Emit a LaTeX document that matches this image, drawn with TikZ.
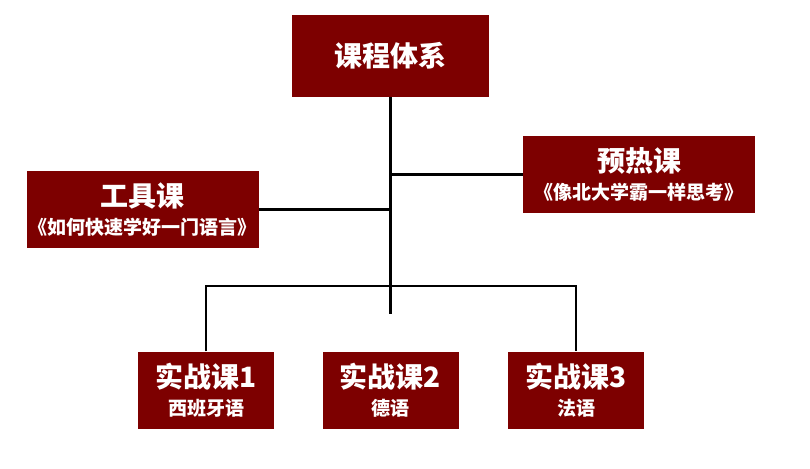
\documentclass[tikz,border=0pt]{standalone}
\usepackage{fontspec}
\usepackage{xcolor}
\usetikzlibrary{positioning}
\newfontfamily\cjk{Noto Sans CJK SC}
\definecolor{darkred}{RGB}{125,0,0}
\newcommand{\bigtxt}{\fontsize{28}{34}\selectfont}
\newcommand{\subtxt}{\fontsize{19}{24}\selectfont}

\begin{document}
\begin{tikzpicture}[x=1pt, y=-1pt,
        course/.style={fill=darkred, text=white, font=\cjk\bfseries, align=center, inner sep=0pt},
        widebox/.style={course, minimum width=232pt, minimum height=77pt},
        smallbox/.style={course, minimum width=136pt, minimum height=77pt},
        link/.style={line width=2.5pt, black}]
            \useasboundingbox (0,0) rectangle (810,468);
            % Top
            \node[course, minimum width=197pt, minimum height=82pt] (sys) at (390.5,56) {\bigtxt 课程体系};
            \node[widebox] (warm) at (639,174.5) {\bigtxt 预热课\\[8pt]\subtxt 《像北大学霸一样思考》};
            \node[widebox] (tool) at (142.5,209.5) {\bigtxt 工具课\\[8pt]\subtxt 《如何快速学好一门语言》};
            % Practice courses
            \node[smallbox] (prac1) at (206,390) {\bigtxt 实战课1\\[8pt]\subtxt 西班牙语};
            \node[smallbox] (prac2) at (390.5,390) {\bigtxt 实战课2\\[8pt]\subtxt 德语};
            \node[smallbox] (prac3) at (576,390) {\bigtxt 实战课3\\[8pt]\subtxt 法语};
            % Connectors
            \coordinate (stem) at (390.5,314);
            \coordinate (bar) at (390.5,286);
            \draw[link] (sys.south) -- (stem);
            \draw[link] (warm.west) -- (warm.west -| sys.south);
            \draw[link] (tool.east) -- (tool.east -| sys.south);
            \draw[link] (prac1.north) |- (bar) -| (prac3.north);
        \end{tikzpicture}
\end{document}
